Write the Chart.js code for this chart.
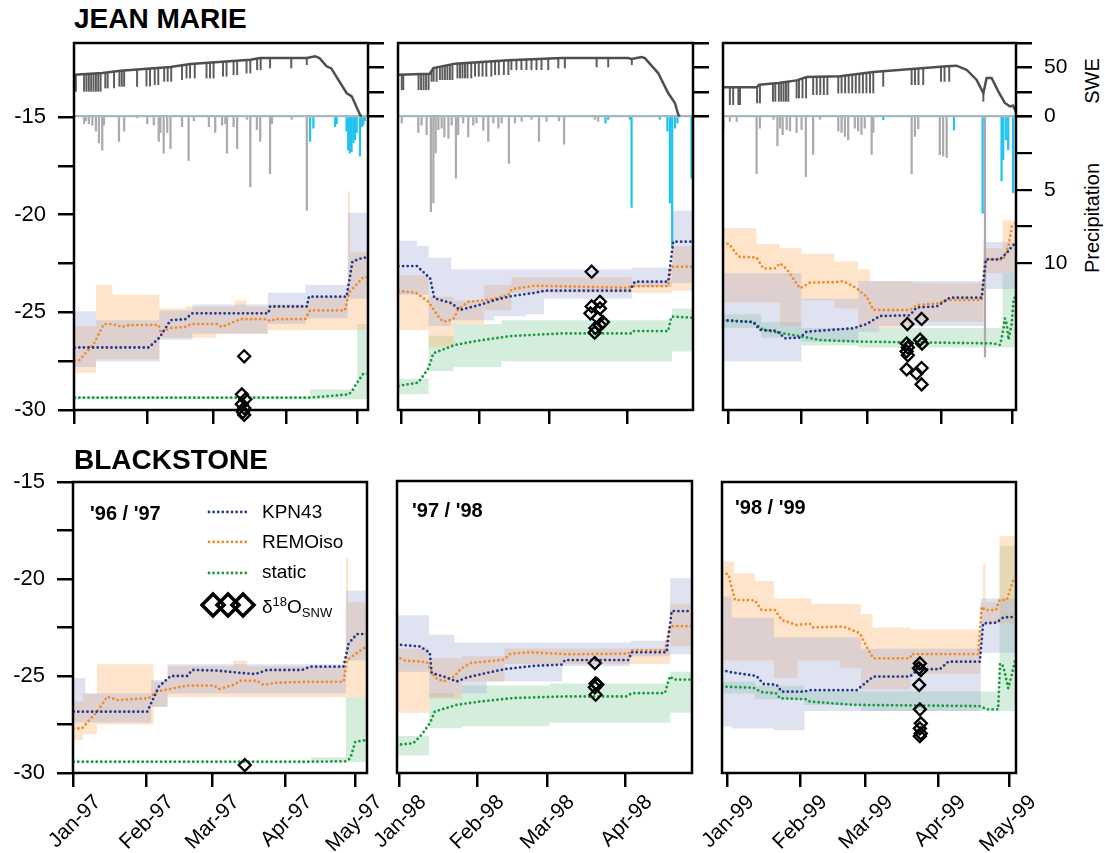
<!DOCTYPE html>
<html>
<head>
<meta charset="utf-8">
<title>Snow isotopes - Jean Marie / Blackstone</title>
<script src="https://cdn.jsdelivr.net/npm/chart.js@4.4.1/dist/chart.umd.min.js"></script>
<style>
  body { margin: 0; background: #fff; }
  #figure { position: relative; width: 1105px; height: 853px; overflow: hidden; font-family: 'Liberation Sans', Arial, sans-serif; color: #000; }
  #figure canvas { position: absolute; }
  .txt { position: absolute; white-space: nowrap; line-height: 1; }
  .site { font-size: 28px; font-weight: bold; }
  .season { font-size: 20px; font-weight: bold; }
  .leg { font-size: 19px; }
  .vert { position: absolute; font-size: 20px; white-space: nowrap; line-height: 1; transform: translate(-50%, -50%) rotate(-90deg); }
  .leg sup { font-size: 13px; vertical-align: 7px; line-height: 0; }
  .leg sub { font-size: 13px; vertical-align: -4px; line-height: 0; }
</style>
</head>
<body>
<div id="figure">
  <div class="txt site" style="left:74px;top:5px;">JEAN MARIE</div>
  <div class="txt site" style="left:74px;top:446px;">BLACKSTONE</div>
  <div class="txt season" style="left:90px;top:503px;">'96 / '97</div>
  <div class="txt season" style="left:412px;top:500px;">'97 / '98</div>
  <div class="txt season" style="left:735px;top:497px;">'98 / '99</div>
  <div class="vert" style="left:1092px;top:81px;">SWE</div>
  <div class="vert" style="left:1092px;top:218px;">Precipitation</div>
  <svg style="position:absolute;left:200px;top:495px;" width="60" height="125">
    <line x1="9" y1="17" x2="47" y2="17" stroke="#22398c" stroke-width="2.8" stroke-dasharray="0 4.6" stroke-linecap="round"/>
    <line x1="9" y1="47" x2="47" y2="47" stroke="#f08b2c" stroke-width="2.8" stroke-dasharray="0 4.6" stroke-linecap="round"/>
    <line x1="9" y1="78" x2="47" y2="78" stroke="#179a3c" stroke-width="2.8" stroke-dasharray="0 4.6" stroke-linecap="round"/>
    <polygon points="13,99 24,110 13,121 2,110" fill="none" stroke="#000" stroke-width="3.5"/>
    <polygon points="28,99 39,110 28,121 17,110" fill="none" stroke="#000" stroke-width="3.5"/>
    <polygon points="43,99 54,110 43,121 32,110" fill="none" stroke="#000" stroke-width="3.5"/>
  </svg>
  <div class="txt leg" style="left:262px;top:502px;">KPN43</div>
  <div class="txt leg" style="left:262px;top:532px;">REMOiso</div>
  <div class="txt leg" style="left:262px;top:562px;">static</div>
  <div class="txt leg" style="left:262px;top:597px;">δ<sup>18</sup>O<sub>SNW</sub></div>
</div>
<script>
// x axis = day of year (0 = 1 Jan)
const monthDays = [0, 31, 59, 90, 120];
const monthLabels97 = ['Jan-97', 'Feb-97', 'Mar-97', 'Apr-97', 'May-97'];
const monthLabels98 = ['Jan-98', 'Feb-98', 'Mar-98', 'Apr-98', 'May-98'];
const monthLabels99 = ['Jan-99', 'Feb-99', 'Mar-99', 'Apr-99', 'May-99'];
const yTickValues = [-30, -27.5, -25, -22.5, -20, -17.5, -15];
const sweTickValues = [0, 25, 50, 75];
const precipTickValues = [0, 2.5, 5, 7.5, 10];

// ---------- Jean Marie 96/97 ----------
const jm97Kpn = [[0,-26.8],[31.5,-26.8],[36,-26.3],[40.7,-25.4],[47,-25.35],[50,-25.05],[82.3,-25.05],[83,-24.7],[98.6,-24.7],[99.5,-24.2],[115.5,-24.2],[118,-22.4],[122.5,-22.2],[124.6,-22.2]];
const jm97Remo = [[0,-27.45],[2,-27.45],[8.2,-26.6],[12.4,-25.6],[16,-25.6],[20.2,-25.75],[23,-25.65],[35.7,-25.65],[36.5,-26.05],[40.7,-25.8],[47,-25.75],[49.5,-25.6],[60.4,-25.6],[62.5,-25.75],[70.3,-25.35],[81.6,-25.35],[83,-25.45],[85,-25.35],[97.9,-25.35],[100,-24.9],[114.8,-24.9],[116.5,-24.0],[122.6,-23.2],[124.6,-23.2]];
const jm97Static = [[0,-29.37],[100,-29.37],[116.5,-29.2],[118,-29.0],[120,-28.6],[122.6,-28.15],[124.6,-28.15]];
const jm97KpnBand = [[0,-27.8,-24.95],[9,-27.5,-25.4],[36,-26.4,-24.9],[50,-26.1,-24.6],[82,-25.6,-24.0],[98,-25.3,-23.6],[116,-24.3,-19.9],[124.6,-24.3,-19.9]];
const jm97RemoBand = [[0,-28.1,-25.7],[9,-27.4,-23.6],[16,-27.4,-24.1],[36,-26.3,-24.8],[47,-26.3,-24.7],[60,-26.1,-24.7],[68,-26.1,-24.4],[73,-26.1,-24.7],[82,-25.9,-24.6],[99,-25.9,-24.2],[116,-25.9,-18.8],[117,-25.9,-21.9],[124.6,-25.9,-21.9]];
const jm97StaticBand = [[0,-29.45,-29.3],[100,-29.45,-28.95],[120,-29.45,-25.6],[124.6,-29.45,-25.6]];
const jm97Obs = [[72,-27.25],[71,-29.2],[72.5,-29.45],[71,-29.7],[72,-29.9],[71.5,-30.1],[72,-30.25]];
const jm97Swe = [[-0.3,42.6],[11.7,44.3],[19.5,46.7],[40.7,50.5],[49.2,53.5],[74.6,57.9],[78.8,59.6],[98.6,59.6],[102.1,61.4],[104,59.6],[107,51.2],[109,49],[115.5,23.9],[117.7,20.5],[121.2,1.7],[121.9,0]];
const jm97SweDips = [[0.5,25.6,42.6],[4,25.6,43],[5,25.6,43],[6,25.6,43],[7,25.6,43.2],[8,25.6,43.4],[9,25.6,43.6],[10,25.6,43.8],[11,25.6,44],[13,29,44.5],[14,29,44.8],[16.7,29,45.8],[19,30.7,46.6],[20,30.7,46.8],[21,30.7,47],[26.5,30.7,48.2],[30.5,31,49],[32,31,49.2],[34,32.4,49.6],[35.5,32.4,49.8],[38,35.8,50.2],[39.5,35.8,50.4],[41,35.8,50.6],[45.6,37.5,52],[47.5,39.2,52.8],[49,39.2,53.4],[51,39.2,53.8],[56,39.2,55],[57.5,39.2,55.2],[59,39.2,55.5],[63,41,56.3],[64.5,41,56.6],[67.5,42.6,57],[69,42.6,57.2],[73,44.3,57.8],[74.6,44.3,57.9],[77.5,47.7,59],[79,47.7,59.6],[83,49.4,59.6],[92,49.4,59.6],[98.6,52.8,59.6]];
const jm97Snow = [[4,0.5],[4.7,0.3],[6,0.5],[7.5,0.6],[9,1.0],[10.3,1.8],[11.7,2.3],[12.4,0.6],[18.8,1.7],[21,1.0],[26.5,0.1],[30.8,0.5],[33.6,0.6],[35.7,1.7],[36.4,1.1],[37.8,2.5],[39.3,1.1],[40.7,2.2],[45.6,0.7],[48.4,3.0],[50.6,0.3],[57,0.7],[59.7,1.1],[62.6,0.6],[64,0.5],[64.7,2.5],[67.5,0.7],[69,2.2],[73.2,0.2],[74.6,4.8],[77.4,0.9],[78.8,1.7],[83,3.9],[83.8,0.5],[92.2,0.2],[98.6,6.4]];
const jm97Rain = [[100,1.7],[101.4,0.8],[110.6,0.7],[111.3,0.5],[115.5,1.0],[116.2,2.3],[116.9,2.5],[117.6,2.4],[118.4,1.8],[119.1,1.6],[119.8,1.1],[121.2,2.7],[121.9,0.7],[122.6,0.6],[123.3,0.3]];

// ---------- Jean Marie 97/98 ----------
const jm98Kpn = [[-1,-22.63],[6.3,-22.63],[11.6,-23.26],[13.3,-24.28],[20.2,-24.54],[23.5,-24.88],[32,-24.6],[37.5,-24.37],[44,-24.17],[53.4,-24.0],[57.4,-23.89],[91.2,-23.89],[93.2,-23.43],[106.5,-23.43],[108.5,-21.38],[116.5,-21.38]];
const jm98Remo = [[-1,-23.91],[6,-24.0],[10.9,-24.46],[14.9,-25.22],[16.9,-25.48],[20.8,-25.36],[22.8,-24.85],[26.8,-24.46],[36.1,-24.34],[42.8,-24.11],[44.2,-23.81],[53.4,-23.64],[90.5,-23.74],[92.5,-23.66],[106.5,-23.66],[107.8,-22.66],[116.5,-22.66]];
const jm98Static = [[-1,-28.76],[6.9,-28.6],[10.9,-27.87],[12.9,-27.1],[21.5,-26.67],[30.8,-26.45],[44.2,-26.21],[64,-26.08],[91.9,-26.08],[92.5,-25.96],[106.5,-25.96],[107.8,-25.22],[116.5,-25.28]];
const jm98KpnBand = [[-1,-24.1,-21.33],[6.4,-24.1,-21.6],[11,-25.7,-22.2],[20,-25.4,-22.8],[37,-25.2,-22.8],[50,-25.1,-22.8],[57,-24.3,-22.8],[92,-23.7,-22.7],[108,-23.5,-19.8],[116.5,-23.5,-19.8]];
const jm98RemoBand = [[-1,-25.9,-23.1],[11,-26.8,-24.2],[21,-25.6,-24.4],[33,-24.9,-23.6],[44,-24.0,-23.2],[92,-24.0,-23.4],[108,-23.9,-21.6],[116.5,-23.9,-21.6]];
const jm98StaticBand = [[-1,-29.2,-28.4],[11,-28.0,-26.2],[21,-27.8,-25.6],[40,-27.5,-25.4],[108,-27.0,-24.8],[116.5,-27.0,-24.8]];
const jm98Obs = [[76,-22.92],[79.3,-24.46],[76,-24.7],[79.3,-24.8],[75.5,-25.05],[78.5,-25.3],[80.5,-25.5],[79.3,-25.65],[77.5,-25.8],[77.2,-26.04]];
const jm98Swe = [[-1,42.6],[11.5,43.6],[12.9,49.4],[21.5,53.9],[42.8,57.3],[64,59.6],[90.6,59.6],[91.9,58.6],[95.9,60.7],[97.2,59.6],[102.5,44.3],[106.5,23.9],[109.2,13.7],[110.5,1.9],[111.2,0]];
const jm98SweDips = [[0.3,27.2,42.6],[0.9,27.2,42.6],[7,27.2,43],[8,27.2,43.1],[9,27.2,43.2],[10,27.2,43.4],[11,27.2,43.5],[12.2,35.8,46],[13,35.8,49.4],[14.2,35.8,50],[15.5,37.5,50.6],[16.5,37.5,51],[17.5,37.5,51.6],[18.5,37.5,52],[19.5,37.5,52.6],[20.5,37.5,53.2],[22.5,39.2,54],[23.5,39.2,54.2],[24.5,39.2,54.4],[25.5,39.2,54.6],[26.5,39.2,54.8],[28,39.2,55],[29.5,41,55.2],[31,41,55.4],[32.5,41,55.6],[34,41,55.8],[36,41,56],[37.5,42.6,56.2],[39,42.6,56.5],[41,42.6,56.8],[42.8,42.6,57.3],[44,47.7,57.5],[46,47.7,57.8],[48,47.7,58],[50,47.7,58.2],[52,47.7,58.4],[54,47.7,58.6],[56,47.7,58.8],[58.7,47.7,59],[62.7,49.4,59.4],[65.3,49.4,59.6],[78,50.5,59.6],[82.6,50.5,59.6],[92,52.8,58.8]];
const jm98Snow = [[0.3,0.45],[6.9,1.1],[8.2,0.6],[10.2,1.25],[11.9,6.5],[12.9,5.9],[13.8,2.5],[14.9,0.9],[16.2,0.8],[17.3,1.4],[18.9,1.5],[20.2,0.6],[21.9,4.2],[22.8,1.25],[24.8,0.45],[26.8,1.4],[28.8,0.6],[30.1,0.45],[32.8,0.95],[34.8,1.7],[36.8,0.45],[38.8,0.8],[40.1,0.45],[43,3.2],[45.4,0.45],[48.1,0.34],[52,0.2],[55,1.7],[58,0.34],[63,0.3],[65,1.9],[77.3,0.2],[78.6,0.34]];
const jm98Rain = [[81.5,0.45],[82.6,0.2],[91.3,0.2],[91.9,6.2],[103.2,0.2],[106.2,1.0],[107.2,5.9],[108.1,8.8],[109.2,0.8],[110.2,0.45],[115.8,4.2]];

// ---------- Jean Marie 98/99 ----------
const jm99Kpn = [[-2.1,-25.4],[10.7,-25.5],[13.5,-25.9],[20.6,-25.95],[24.1,-26.33],[30.4,-26.3],[33.2,-25.99],[52.9,-25.82],[58.6,-25.6],[64.2,-25.19],[76.9,-25.15],[79.7,-24.75],[88.2,-24.7],[93.8,-24.25],[107.2,-24.25],[109,-22.29],[114.9,-22.29],[117.7,-21.98],[120.5,-21.55],[122,-21.5]];
const jm99Remo = [[-2.1,-21.47],[0.5,-21.5],[4.4,-22.15],[12.1,-22.2],[14.9,-22.75],[19.8,-22.75],[22,-22.49],[24.9,-22.8],[30.4,-23.77],[34.6,-23.48],[45.9,-23.45],[48.7,-23.4],[54.4,-23.77],[58.6,-24.2],[61.4,-24.88],[76.9,-24.88],[79.7,-24.63],[88.2,-24.55],[92.4,-24.37],[107.2,-24.37],[108.6,-22.29],[116.3,-22.29],[118.5,-21.6],[120,-20.6],[122,-20.4]];
const jm99Static = [[-2.1,-25.42],[10.7,-25.5],[14.9,-25.9],[31.8,-26.25],[38.9,-26.42],[55.8,-26.5],[112.1,-26.59],[115,-26.67],[116.3,-25.9],[117,-25.31],[117.8,-25.6],[118.5,-26.4],[119.9,-25.6],[120.7,-24.28],[122,-24.2]];
const jm99KpnBand = [[-2.1,-27.5,-23.0],[31,-26.5,-24.3],[55,-26.0,-23.4],[64,-25.7,-23.4],[108,-23.8,-21.4],[122,-23.8,-21.4]];
const jm99RemoBand = [[-2.1,-24.5,-20.7],[12,-24.5,-21.5],[22,-25.7,-21.7],[31,-24.4,-22.0],[45,-24.8,-22.4],[55,-25.8,-22.8],[60,-25.8,-23.4],[78,-25.5,-23.5],[108,-23.0,-21.7],[116,-23.0,-20.3],[122,-23.0,-20.3]];
const jm99StaticBand = [[-2.1,-25.8,-25.1],[14,-26.3,-25.5],[31,-26.7,-25.8],[55,-26.8,-25.8],[116,-26.8,-23.0],[122,-26.8,-23.0]];
const jm99Obs = [[75.8,-25.6],[81.8,-25.34],[75.5,-26.6],[76,-26.8],[75.5,-27.0],[76,-27.2],[81.2,-26.4],[82,-26.6],[75.5,-27.92],[81.8,-27.85],[79.7,-28.13],[81.8,-28.69]];
const jm99Swe = [[-2.1,29.7],[12.1,29.7],[13.2,32.4],[21.3,34.1],[29,36.8],[33.2,40.2],[47.3,41],[61.4,45.4],[77.6,48.4],[92.4,51.2],[96.6,51.8],[100.8,47.7],[105,37.5],[107.9,23.9],[109.3,39.2],[111.4,39.2],[114.2,25.6],[117,13.7],[119.1,10.3],[120.5,11],[121.9,3.5]];
const jm99SweDips = [[0.8,12,29.7],[2.2,12,29.7],[4.4,12,29.7],[5.1,12,29.7],[12.3,13.7,30],[13.5,13.7,32.4],[19,15.4,34],[20,15.4,34],[21.5,15.4,34.1],[22.5,15.4,34.5],[23.5,15.4,35],[24.5,15.4,35.4],[25.5,15.4,35.8],[29,18.8,36.8],[30,18.8,37.5],[31.5,18.8,39],[33,18.8,40.2],[36,22.2,40.4],[37.5,22.2,40.4],[39,22.2,40.5],[40.5,22.2,40.6],[42,22.2,40.7],[46.6,23.9,41],[48,23.9,41.2],[49.5,23.9,41.6],[51,23.9,42],[52.5,23.9,42.4],[54,23.9,42.8],[55.5,23.9,43.2],[57,23.9,43.6],[58.5,23.9,44.2],[60,23.9,44.8],[61.4,23.9,45.4],[65.6,30.7,46],[77.6,32.4,48.4],[79,32.4,48.6],[80.5,32.4,48.8],[82.5,32.4,49],[90,35.8,50.8],[91.5,35.8,51],[93.5,35.8,51.2],[107.9,15.4,23.9]];
const jm99Snow = [[-2,1.0],[0.8,0.34],[3.7,0.34],[12.1,3.9],[13.5,0.8],[19.2,0.2],[20.9,2.0],[22,0.8],[23.1,1.25],[24.8,0.9],[26.2,1.0],[29,1.1],[31.1,0.9],[32.9,4.1],[36,2.6],[38.9,0.2],[46.6,1.0],[48,1.1],[49.4,1.36],[50.8,1.6],[53.6,0.8],[55,1.0],[56.4,1.25],[57.8,0.8],[60.7,2.6],[61.4,1.1],[77.6,3.9],[79,1.36],[80.4,0.85],[89.5,2.6],[90.9,2.7],[92.4,2.8],[108.6,16.4]];
const jm99Rain = [[65.6,0.23],[95.5,0.93],[107.6,6.6],[115.6,4.4],[116.3,2.95],[117.4,1.6],[118.4,2.27],[120.5,5.2],[121.7,1.8]];

// ---------- Blackstone 96/97 ----------
const bs97Kpn = [[0,-26.84],[31.3,-26.84],[36.3,-25.55],[41.3,-25.0],[48.4,-25.0],[50.5,-24.69],[61,-24.72],[71,-24.84],[77.4,-24.9],[82.4,-24.69],[97.3,-24.69],[100.9,-24.52],[115,-24.52],[117.2,-23.32],[120.7,-22.84],[125,-22.84]];
const bs97Remo = [[0,-27.7],[3.5,-27.7],[10,-26.84],[14.3,-26.07],[18.6,-26.24],[32,-26.15],[35.6,-25.8],[42.7,-25.63],[48.4,-25.5],[59.8,-25.5],[62,-25.67],[68.4,-25.45],[71.2,-25.24],[78,-25.24],[80.9,-25.46],[86.5,-25.35],[99.3,-25.3],[115,-25.3],[116.5,-24.18],[125,-23.45]];
const bs97Static = [[0,-29.42],[101,-29.42],[115.7,-29.4],[117.9,-29.25],[120,-28.39],[125,-28.3]];
const bs97KpnBand = [[0,-27.4,-25.1],[5,-27.4,-25.9],[33,-26.6,-25.2],[40,-25.9,-24.4],[116,-24.2,-20.6],[125,-24.2,-20.6]];
const bs97RemoBand = [[0,-28.3,-26.3],[4,-28.0,-25.9],[10,-27.5,-24.4],[34,-26.6,-25.3],[40,-26.1,-24.5],[68,-26.1,-24.2],[74,-26.1,-24.5],[116,-26.1,-18.9],[117,-26.1,-21.2],[125,-26.1,-21.2]];
const bs97StaticBand = [[0,-29.45,-29.4],[101,-29.45,-29.2],[116,-29.45,-26.1],[125,-29.45,-26.1]];
const bs97Obs = [[72.9,-29.59]];

// ---------- Blackstone 97/98 ----------
const bs98Kpn = [[-1,-23.4],[8.4,-23.5],[12.3,-23.83],[13,-24.86],[19,-25.1],[23,-25.3],[26.9,-25.1],[34.9,-24.86],[42.9,-24.65],[53.5,-24.5],[64.8,-24.43],[66.1,-24.2],[91.4,-24.2],[92.7,-23.8],[106.6,-23.8],[108.6,-21.68],[116.7,-21.68]];
const bs98Remo = [[-1,-24.0],[2.4,-24.23],[11,-24.3],[14.3,-25.1],[17.7,-25.3],[21.9,-25.05],[24.6,-24.65],[28.6,-24.35],[41.8,-24.18],[44.4,-23.87],[52.2,-23.8],[66.8,-23.9],[91.4,-23.87],[92.7,-23.7],[105.9,-23.7],[107.9,-22.46],[116.7,-22.46]];
const bs98Static = [[-1,-28.56],[5.7,-28.47],[9,-28.04],[12.3,-27.44],[14.3,-26.84],[23,-26.5],[32.3,-26.33],[45.6,-26.15],[65.5,-26.07],[90.7,-26.07],[92.7,-25.9],[105.9,-25.9],[107.9,-25.03],[109.3,-25.2],[116.7,-25.2]];
const bs98KpnBand = [[-1,-24.8,-21.9],[12,-26.1,-22.9],[22,-25.9,-23.3],[35,-25.3,-23.3],[65,-24.5,-23.3],[92,-24.0,-23.2],[108,-23.9,-20.0],[116.7,-23.9,-20.0]];
const bs98RemoBand = [[-1,-26.9,-23.6],[12,-26.2,-24.1],[25,-25.3,-24.0],[42,-24.4,-23.6],[108,-23.5,-21.3],[116.7,-23.5,-21.3]];
const bs98StaticBand = [[-1,-29.1,-28.1],[12,-27.7,-25.9],[25,-27.6,-25.5],[60,-27.4,-25.4],[108,-26.9,-24.8],[116.7,-26.9,-24.8]];
const bs98Obs = [[78,-24.35],[78.3,-25.4],[79,-25.46],[78,-25.6],[78.3,-25.98]];

// ---------- Blackstone 98/99 ----------
const bs99Kpn = [[-2.1,-24.69],[1.3,-24.8],[12.6,-25.0],[15.5,-25.41],[21.1,-25.45],[23.3,-25.81],[32.5,-25.81],[35.3,-25.73],[55.2,-25.73],[62.3,-25.03],[77.9,-25.03],[81.4,-24.65],[90.6,-24.65],[94.2,-24.26],[107.6,-24.26],[109,-22.29],[114.7,-22.25],[117.6,-21.98],[123,-21.95]];
const bs99Remo = [[-2.1,-19.71],[0.6,-19.75],[3.4,-21.08],[11.9,-21.1],[14.7,-21.6],[20.4,-21.6],[23.3,-22.11],[29.6,-22.37],[35.3,-22.3],[36.7,-22.5],[49.5,-22.45],[56.6,-22.8],[59.4,-23.49],[62.3,-24.09],[77.9,-24.09],[78.6,-23.87],[106.9,-23.87],[108.4,-21.43],[109.8,-21.6],[114.5,-21.6],[116,-21.08],[119,-21.08],[121.9,-20.05],[123,-19.9]];
const bs99Static = [[-2.1,-25.55],[11.2,-25.6],[14.7,-25.83],[21.1,-25.9],[22.5,-26.15],[33.9,-26.2],[35.3,-26.32],[53.8,-26.49],[107.6,-26.55],[110.5,-26.72],[115.4,-26.72],[116.2,-24.35],[117.6,-24.5],[119.7,-25.63],[121.1,-25.0],[122.6,-24.18],[123,-24.1]];
const bs99KpnBand = [[-2.1,-27.6,-20.9],[2,-27.7,-22.0],[20,-27.8,-23.0],[33,-26.8,-23.0],[57,-26.8,-23.6],[108,-23.8,-21.0],[123,-23.8,-21.0]];
const bs99RemoBand = [[-2.1,-24.2,-19.1],[3,-24.2,-19.7],[12,-24.2,-20.1],[20,-25.1,-21.0],[30,-24.2,-21.0],[36,-24.2,-21.3],[48,-24.6,-21.3],[57,-25.7,-21.8],[62,-25.7,-22.5],[78,-24.9,-22.6],[108,-22.3,-21.2],[109,-22.3,-19.2],[110,-22.3,-21.2],[116,-22.3,-17.8],[123,-22.3,-17.8]];
const bs99StaticBand = [[-2.1,-25.9,-25.3],[12,-26.2,-25.5],[33,-26.5,-25.8],[57,-26.8,-25.8],[116,-26.8,-18.3],[123,-26.8,-18.3]];
const bs99Obs = [[82.1,-24.35],[81.7,-24.6],[82.5,-24.7],[81.8,-25.46],[82.1,-26.72],[82.5,-27.44],[82.1,-27.7],[82.5,-27.96],[82.1,-28.1]];

document.addEventListener("DOMContentLoaded", function () {
    Chart.defaults.font.family = "'Liberation Sans', Arial, sans-serif";
    Chart.defaults.color = '#000';

    const KPN_COLOR = '#22398c';
    const REMO_COLOR = '#f08b2c';
    const STATIC_COLOR = '#179a3c';
    const KPN_BAND = 'rgba(160, 170, 215, 0.34)';
    const REMO_BAND = 'rgba(253, 185, 115, 0.38)';
    const STATIC_BAND = 'rgba(95, 190, 125, 0.27)';

    const framePlugin = {
        id: 'frame',
        afterDatasetsDraw(chart) {
            const { ctx, chartArea: a } = chart;
            ctx.save();
            ctx.strokeStyle = '#000';
            ctx.lineWidth = 2.5;
            ctx.strokeRect(a.left, a.top, a.right - a.left, a.bottom - a.top);
            ctx.restore();
        }
    };

    // the two right axes (SWE, precipitation) share the same edge; give them room for labels after layout
    const rightAxesPlugin = {
        id: 'rightAxes',
        afterLayout(chart) {
            ['pr', 'swe'].forEach(id => {
                const s = chart.scales[id];
                if (!s) return;
                s.left = chart.chartArea.right;
                s.right = s.left + 70;
                s.width = 70;
            });
        }
    };

    function toPoints(arr) {
        return arr.map(p => ({ x: p[0], y: p[1] }));
    }

    function bandSets(band, color) {
        return [
            { type: 'line', data: band.map(p => ({ x: p[0], y: p[2] })), stepped: true, fill: '+1', backgroundColor: color, borderColor: 'rgba(0,0,0,0)', borderWidth: 0, pointRadius: 0, order: 10 },
            { type: 'line', data: band.map(p => ({ x: p[0], y: p[1] })), stepped: true, fill: false, borderColor: 'rgba(0,0,0,0)', borderWidth: 0, pointRadius: 0, order: 10 }
        ];
    }

    function dotted(line, color) {
        return { type: 'line', data: toPoints(line), borderColor: color, borderWidth: 2.8, borderDash: [0, 4.6], borderCapStyle: 'round', borderJoinStyle: 'round', pointRadius: 0, fill: false, tension: 0, order: 2 };
    }

    function fitTo(size) {
        return function (s) {
            if (s.isHorizontal()) s.height = size; else s.width = size;
            s.paddingLeft = s.paddingRight = s.paddingTop = s.paddingBottom = 0;
        };
    }

    function makeCanvas(p) {
        const c = document.createElement('canvas');
        c.width = p.box[1] - p.box[0] + p.ml + p.mr;
        c.height = p.box[3] - p.box[2] + p.mt + p.mb;
        c.style.left = (p.box[0] - p.ml) + 'px';
        c.style.top = (p.box[2] - p.mt) + 'px';
        c.style.width = c.width + 'px';
        c.style.height = c.height + 'px';
        const fig = document.getElementById('figure');
        fig.insertBefore(c, fig.firstChild);
        return c;
    }

    function buildScales(p) {
        const scales = {
            x: {
                type: 'linear', min: p.xMin, max: p.xMax, offset: false,
                afterBuildTicks: s => { s.ticks = monthDays.filter(d => d >= p.xMin && d <= p.xMax).map(v => ({ value: v })); },
                afterFit: fitTo(p.mb),
                border: { display: false },
                grid: { offset: false, drawOnChartArea: false, drawTicks: true, tickLength: 14, tickColor: '#000', lineWidth: 2.5 },
                ticks: {
                    display: !p.top, autoSkip: false, minRotation: 45, maxRotation: 45,
                    padding: 3, labelOffset: 24, font: { size: 21 },
                    callback: v => p.months[monthDays.indexOf(v)]
                }
            },
            y: {
                type: 'linear', position: 'left', min: -30, max: p.top ? -11.21 : -15,
                afterBuildTicks: s => { s.ticks = yTickValues.map(v => ({ value: v })); },
                afterFit: fitTo(p.ml),
                border: { display: false },
                grid: { drawOnChartArea: false, drawTicks: p.leftAxis, tickLength: 16, tickColor: '#000', lineWidth: 2.5 },
                ticks: { display: p.leftAxis, padding: 12, font: { size: 22 }, callback: v => (v % 5 === 0 ? String(v) : '') }
            }
        };
        if (p.top) {
            scales.pr = {
                type: 'linear', position: 'right', reverse: true, min: -5, max: 20,
                afterBuildTicks: s => { s.ticks = precipTickValues.map(v => ({ value: v })); },
                afterFit: fitTo(0),
                border: { display: false },
                grid: {
                    drawOnChartArea: true, drawTicks: true, tickLength: 16, lineWidth: 2.2,
                    color: c => (c.tick && c.tick.value === 0 ? '#a6b7c1' : 'rgba(0,0,0,0)'),
                    tickColor: p.rightLabels ? '#000' : 'rgba(0,0,0,0)'
                },
                ticks: { display: p.rightLabels, padding: 12, font: { size: 21 }, callback: v => (v % 5 === 0 ? String(v) : '') }
            };
            scales.swe = {
                type: 'linear', position: 'right', min: -300, max: 75,
                afterBuildTicks: s => { s.ticks = sweTickValues.map(v => ({ value: v })); },
                afterFit: fitTo(0),
                border: { display: false },
                grid: { drawOnChartArea: false, drawTicks: true, tickLength: 16, lineWidth: 2.5, tickColor: '#000' },
                ticks: { display: p.rightLabels, padding: 12, font: { size: 21 }, callback: v => (v === 50 ? '50' : '') }
            };
        }
        return scales;
    }

    function makePanel(p) {
        const canvas = makeCanvas(p);
        const datasets = [];
        if (p.top) {
            datasets.push({ type: 'line', yAxisID: 'swe', data: toPoints(p.swe), borderColor: '#4f4f4f', borderWidth: 2.5, pointRadius: 0, fill: false, tension: 0, order: 4 });
            datasets.push({ type: 'bar', yAxisID: 'swe', data: p.dips.map(d => ({ x: d[0], y: [d[1], d[2]] })), backgroundColor: '#5c5c5c', barThickness: 1.3, grouped: false, order: 5 });
            datasets.push({ type: 'bar', yAxisID: 'pr', data: toPoints(p.snow), backgroundColor: '#ababab', barThickness: 1.6, grouped: false, order: 5 });
            datasets.push({ type: 'bar', yAxisID: 'pr', data: toPoints(p.rain), backgroundColor: '#22c3ee', barThickness: 1.6, grouped: false, order: 5 });
        }
        datasets.push(...bandSets(p.kpnBand, KPN_BAND));
        datasets.push(...bandSets(p.remoBand, REMO_BAND));
        datasets.push(...bandSets(p.staticBand, STATIC_BAND));
        datasets.push(dotted(p.kpn, KPN_COLOR), dotted(p.remo, REMO_COLOR), dotted(p.stat, STATIC_COLOR));
        datasets.push({
            type: 'line', data: toPoints(p.obs), showLine: false, pointStyle: 'rectRot', pointRadius: 6,
            pointBorderWidth: 2.3, pointBorderColor: '#000', pointBackgroundColor: 'rgba(0,0,0,0)', clip: false, order: 0
        });

        return new Chart(canvas.getContext('2d'), {
            type: 'line',
            data: { datasets: datasets },
            options: {
                responsive: false,
                animation: false,
                devicePixelRatio: 1,
                events: [],
                layout: { autoPadding: false, padding: { left: 0, top: p.mt, right: p.mr, bottom: 0 } },
                scales: buildScales(p),
                plugins: { legend: { display: false }, tooltip: { enabled: false } }
            },
            plugins: [framePlugin, rightAxesPlugin]
        });
    }

    const panels = [
        { box: [74, 368, 43, 410], ml: 74, mr: 22, mt: 4, mb: 18, top: true, leftAxis: true, rightLabels: false, xMin: -0.3, xMax: 124.6, months: monthLabels97,
          kpn: jm97Kpn, remo: jm97Remo, stat: jm97Static, kpnBand: jm97KpnBand, remoBand: jm97RemoBand, staticBand: jm97StaticBand, obs: jm97Obs,
          swe: jm97Swe, dips: jm97SweDips, snow: jm97Snow, rain: jm97Rain },
        { box: [398, 693, 43, 410], ml: 4, mr: 22, mt: 4, mb: 18, top: true, leftAxis: false, rightLabels: false, xMin: -1.2, xMax: 116.4, months: monthLabels98,
          kpn: jm98Kpn, remo: jm98Remo, stat: jm98Static, kpnBand: jm98KpnBand, remoBand: jm98RemoBand, staticBand: jm98StaticBand, obs: jm98Obs,
          swe: jm98Swe, dips: jm98SweDips, snow: jm98Snow, rain: jm98Rain },
        { box: [723, 1016, 43, 410], ml: 4, mr: 62, mt: 4, mb: 18, top: true, leftAxis: false, rightLabels: true, xMin: -2.1, xMax: 121.7, months: monthLabels99,
          kpn: jm99Kpn, remo: jm99Remo, stat: jm99Static, kpnBand: jm99KpnBand, remoBand: jm99RemoBand, staticBand: jm99StaticBand, obs: jm99Obs,
          swe: jm99Swe, dips: jm99SweDips, snow: jm99Snow, rain: jm99Rain },
        { box: [73, 367, 482, 773], ml: 73, mr: 30, mt: 14, mb: 80, top: false, leftAxis: true, xMin: -0.3, xMax: 125, months: monthLabels97,
          kpn: bs97Kpn, remo: bs97Remo, stat: bs97Static, kpnBand: bs97KpnBand, remoBand: bs97RemoBand, staticBand: bs97StaticBand, obs: bs97Obs },
        { box: [397, 692, 481, 773], ml: 50, mr: 30, mt: 4, mb: 80, top: false, leftAxis: false, xMin: -0.8, xMax: 116.7, months: monthLabels98,
          kpn: bs98Kpn, remo: bs98Remo, stat: bs98Static, kpnBand: bs98KpnBand, remoBand: bs98RemoBand, staticBand: bs98StaticBand, obs: bs98Obs },
        { box: [722, 1016, 482, 773], ml: 50, mr: 40, mt: 4, mb: 80, top: false, leftAxis: false, xMin: -2.1, xMax: 123, months: monthLabels99,
          kpn: bs99Kpn, remo: bs99Remo, stat: bs99Static, kpnBand: bs99KpnBand, remoBand: bs99RemoBand, staticBand: bs99StaticBand, obs: bs99Obs }
    ];

    panels.forEach(makePanel);
});
</script>
</body>
</html>
